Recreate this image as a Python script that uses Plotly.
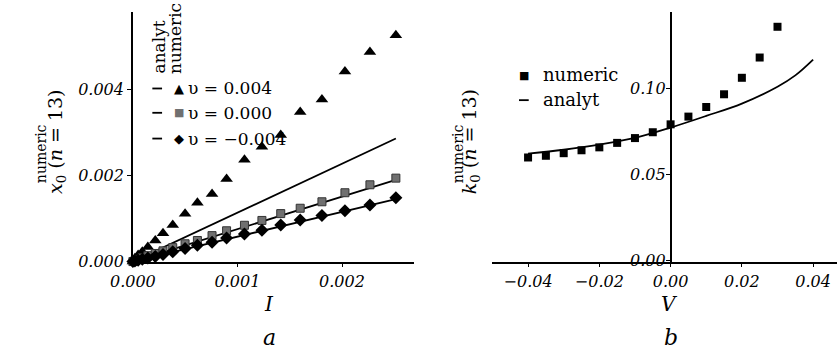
import plotly.graph_objects as go

# ---------------- data: panel a ----------------
I_vals = [0.0, 0.019e-3, 0.05e-3, 0.09e-3, 0.143e-3, 0.214e-3, 0.288e-3, 0.381e-3, 0.499e-3,
          0.617e-3, 0.757e-3, 0.896e-3, 1.067e-3, 1.234e-3, 1.414e-3, 1.600e-3, 1.808e-3,
          2.028e-3, 2.267e-3, 2.515e-3]
x0_v_pos = [0.0, 0.075e-3, 0.15e-3, 0.23e-3, 0.34e-3, 0.49e-3, 0.66e-3, 0.85e-3, 1.11e-3,
            1.37e-3, 1.57e-3, 1.92e-3, 2.37e-3, 2.67e-3, 2.94e-3, 3.48e-3, 3.77e-3,
            4.42e-3, 4.87e-3, 5.26e-3]
x0_v_zero = [0.0, 0.02e-3, 0.05e-3, 0.09e-3, 0.136e-3, 0.188e-3, 0.249e-3, 0.324e-3, 0.414e-3,
             0.49e-3, 0.603e-3, 0.716e-3, 0.844e-3, 0.956e-3, 1.115e-3, 1.24e-3, 1.39e-3,
             1.60e-3, 1.785e-3, 1.94e-3]
x0_v_neg = [0.0, 0.015e-3, 0.03e-3, 0.053e-3, 0.083e-3, 0.12e-3, 0.166e-3, 0.226e-3, 0.301e-3,
            0.377e-3, 0.452e-3, 0.55e-3, 0.64e-3, 0.731e-3, 0.851e-3, 0.964e-3, 1.07e-3,
            1.183e-3, 1.318e-3, 1.484e-3]
# analytic straight lines (end points)
I_line = [0.0, 2.515e-3]
analyt_v_pos = [0.0, 2.86e-3]
analyt_v_zero = [0.0, 1.898e-3]
analyt_v_neg = [0.0, 1.454e-3]
legend_labels_a = ["υ = 0.004", "υ = 0.000", "υ = −0.004"]

# ---------------- data: panel b ----------------
V_num = [-0.04, -0.035, -0.03, -0.025, -0.02, -0.015, -0.01, -0.005, 0.0,
         0.005, 0.01, 0.015, 0.02, 0.025, 0.03]
k0_num = [0.0598, 0.0608, 0.0623, 0.0640, 0.0657, 0.0683, 0.0711, 0.0745, 0.0791,
          0.0836, 0.0892, 0.0966, 0.1062, 0.1180, 0.1359]
V_an = [-0.04, -0.03, -0.02, -0.01, 0.0, 0.01, 0.02, 0.03, 0.035, 0.04]
k0_an = [0.0620, 0.0643, 0.0673, 0.0712, 0.0772, 0.0840, 0.0912, 0.1010, 0.1076, 0.1168]

W, H = 837, 362
SERIF = "DejaVu Serif"

def px_x(p):
    return p / W

def px_y(p):
    return 1 - p / H

ydom = [px_y(269), px_y(12)]
xdom_a = [px_x(113), px_x(402)]
xdom_b = [px_x(482.7), 1.0]
xr_a = [0, 0.002688]
yr_a = [0, 0.00581]
xr_b = [-0.05, 0.0467]
yr_b = [-0.0008, 0.1447]

fig = go.Figure()

# panel a
for yl in (analyt_v_pos, analyt_v_zero, analyt_v_neg):
    fig.add_trace(go.Scatter(x=I_line, y=yl, mode="lines", line=dict(color="black", width=1.8),
                             xaxis="x", yaxis="y", showlegend=False))
fig.add_trace(go.Scatter(x=I_vals, y=x0_v_pos, mode="markers", cliponaxis=False,
                         marker=dict(symbol="triangle-up", size=11, color="black"),
                         xaxis="x", yaxis="y", showlegend=False))
fig.add_trace(go.Scatter(x=I_vals, y=x0_v_zero, mode="markers", cliponaxis=False,
                         marker=dict(symbol="square", size=8, color="#707070",
                                     line=dict(color="#333333", width=1)),
                         xaxis="x", yaxis="y", showlegend=False))
fig.add_trace(go.Scatter(x=I_vals, y=x0_v_neg, mode="markers", cliponaxis=False,
                         marker=dict(symbol="diamond", size=10, color="black"),
                         xaxis="x", yaxis="y", showlegend=False))

# panel b
fig.add_trace(go.Scatter(x=V_an, y=k0_an, mode="lines", line=dict(color="black", width=1.8, shape="spline"),
                         xaxis="x2", yaxis="y2", showlegend=False))
fig.add_trace(go.Scatter(x=V_num, y=k0_num, mode="markers", cliponaxis=False,
                         marker=dict(symbol="square", size=8, color="black"),
                         xaxis="x2", yaxis="y2", showlegend=False))

tickfont = dict(family=SERIF, size=16, color="black", style="italic")
axis_common = dict(showgrid=False, zeroline=False, showline=True, linecolor="black", linewidth=1.5,
                   ticks="outside", ticklen=4, tickwidth=1.2, tickcolor="black", tickfont=tickfont)

ypos_b = xdom_b[0] + (0 - xr_b[0]) / (xr_b[1] - xr_b[0]) * (xdom_b[1] - xdom_b[0])

fig.update_layout(
    width=W, height=H, margin=dict(l=0, r=0, t=0, b=0),
    paper_bgcolor="white", plot_bgcolor="white", showlegend=False,
    xaxis=dict(domain=xdom_a, range=xr_a, anchor="y", tickvals=[0, 0.001, 0.002],
               tickformat=".3f", **axis_common),
    yaxis=dict(domain=ydom, range=yr_a, anchor="x", tickvals=[0, 0.002, 0.004],
               tickformat=".3f", **axis_common),
    xaxis2=dict(domain=xdom_b, range=xr_b, anchor="y2", tickvals=[-0.04, -0.02, 0, 0.02, 0.04],
                tickformat=".2f", ticklabeloverflow="allow", **axis_common),
    yaxis2=dict(domain=ydom, range=yr_b, anchor="free", position=ypos_b,
                tickvals=[0, 0.05, 0.10], tickformat=".2f", ticklabelstandoff=-3, **axis_common),
)

ann = []
def text(x, y, t, size=17, angle=0, xa="center", ya="middle", italic=False):
    ann.append(dict(x=px_x(x), y=px_y(y), xref="paper", yref="paper", text=t, showarrow=False,
                    textangle=angle, xanchor=xa, yanchor=ya,
                    font=dict(family=SERIF, size=size, color="black",
                              style="italic" if italic else "normal")))

# axis titles and panel labels
text(253, 313, "<i>I</i>", size=20)
text(665, 313, "<i>V</i>", size=20)
text(253, 347, "<i>a</i>", size=22)
text(666, 347, "<i>b</i>", size=22)

# y titles
text(35, 146, "<i>x</i><sub>0</sub> (<i>n</i> = 13)", size=19, angle=-90)
text(18, 158, "numeric", size=14, angle=-90)
text(461, 146, "<i>k</i><sub>0</sub> (<i>n</i> = 13)", size=19, angle=-90)
text(447, 158, "numeric", size=14, angle=-90)

# legend panel a
text(140, 78, "analyt", size=17, angle=-90, ya="bottom")
text(157, 78, "numeric", size=17, angle=-90, ya="bottom")
row_y = [91, 116, 142.5]
symbols = [("▲", "black", 13), ("■", "#707070", 11), ("◆", "black", 13)]
for ry, lab, (sym, col, ss) in zip(row_y, legend_labels_a, symbols):
    text(168, ry, lab, size=17, xa="left")
    ann.append(dict(x=px_x(160), y=px_y(ry), xref="paper", yref="paper", text=sym, showarrow=False,
                    xanchor="center", yanchor="middle",
                    font=dict(family="DejaVu Sans", size=ss, color=col)))

shapes = []
for ry in row_y:
    shapes.append(dict(type="line", xref="paper", yref="paper", x0=px_x(133), x1=px_x(143),
                       y0=px_y(ry), y1=px_y(ry), line=dict(color="black", width=1.8)))

# legend panel b
ann.append(dict(x=px_x(515), y=px_y(78), xref="paper", yref="paper", text="■", showarrow=False,
                xanchor="center", yanchor="middle", font=dict(family="DejaVu Sans", size=11, color="black")))
text(533, 77, "numeric", size=18, xa="left")
shapes.append(dict(type="line", xref="paper", yref="paper", x0=px_x(510), x1=px_x(520),
                   y0=px_y(103), y1=px_y(103), line=dict(color="black", width=1.8)))
text(533, 102, "analyt", size=18, xa="left")

fig.update_layout(annotations=ann, shapes=shapes)
fig.write_html("out.html", config={"displayModeBar": False},
               post_script="document.body.style.margin='0px';document.body.style.overflow='hidden';")
